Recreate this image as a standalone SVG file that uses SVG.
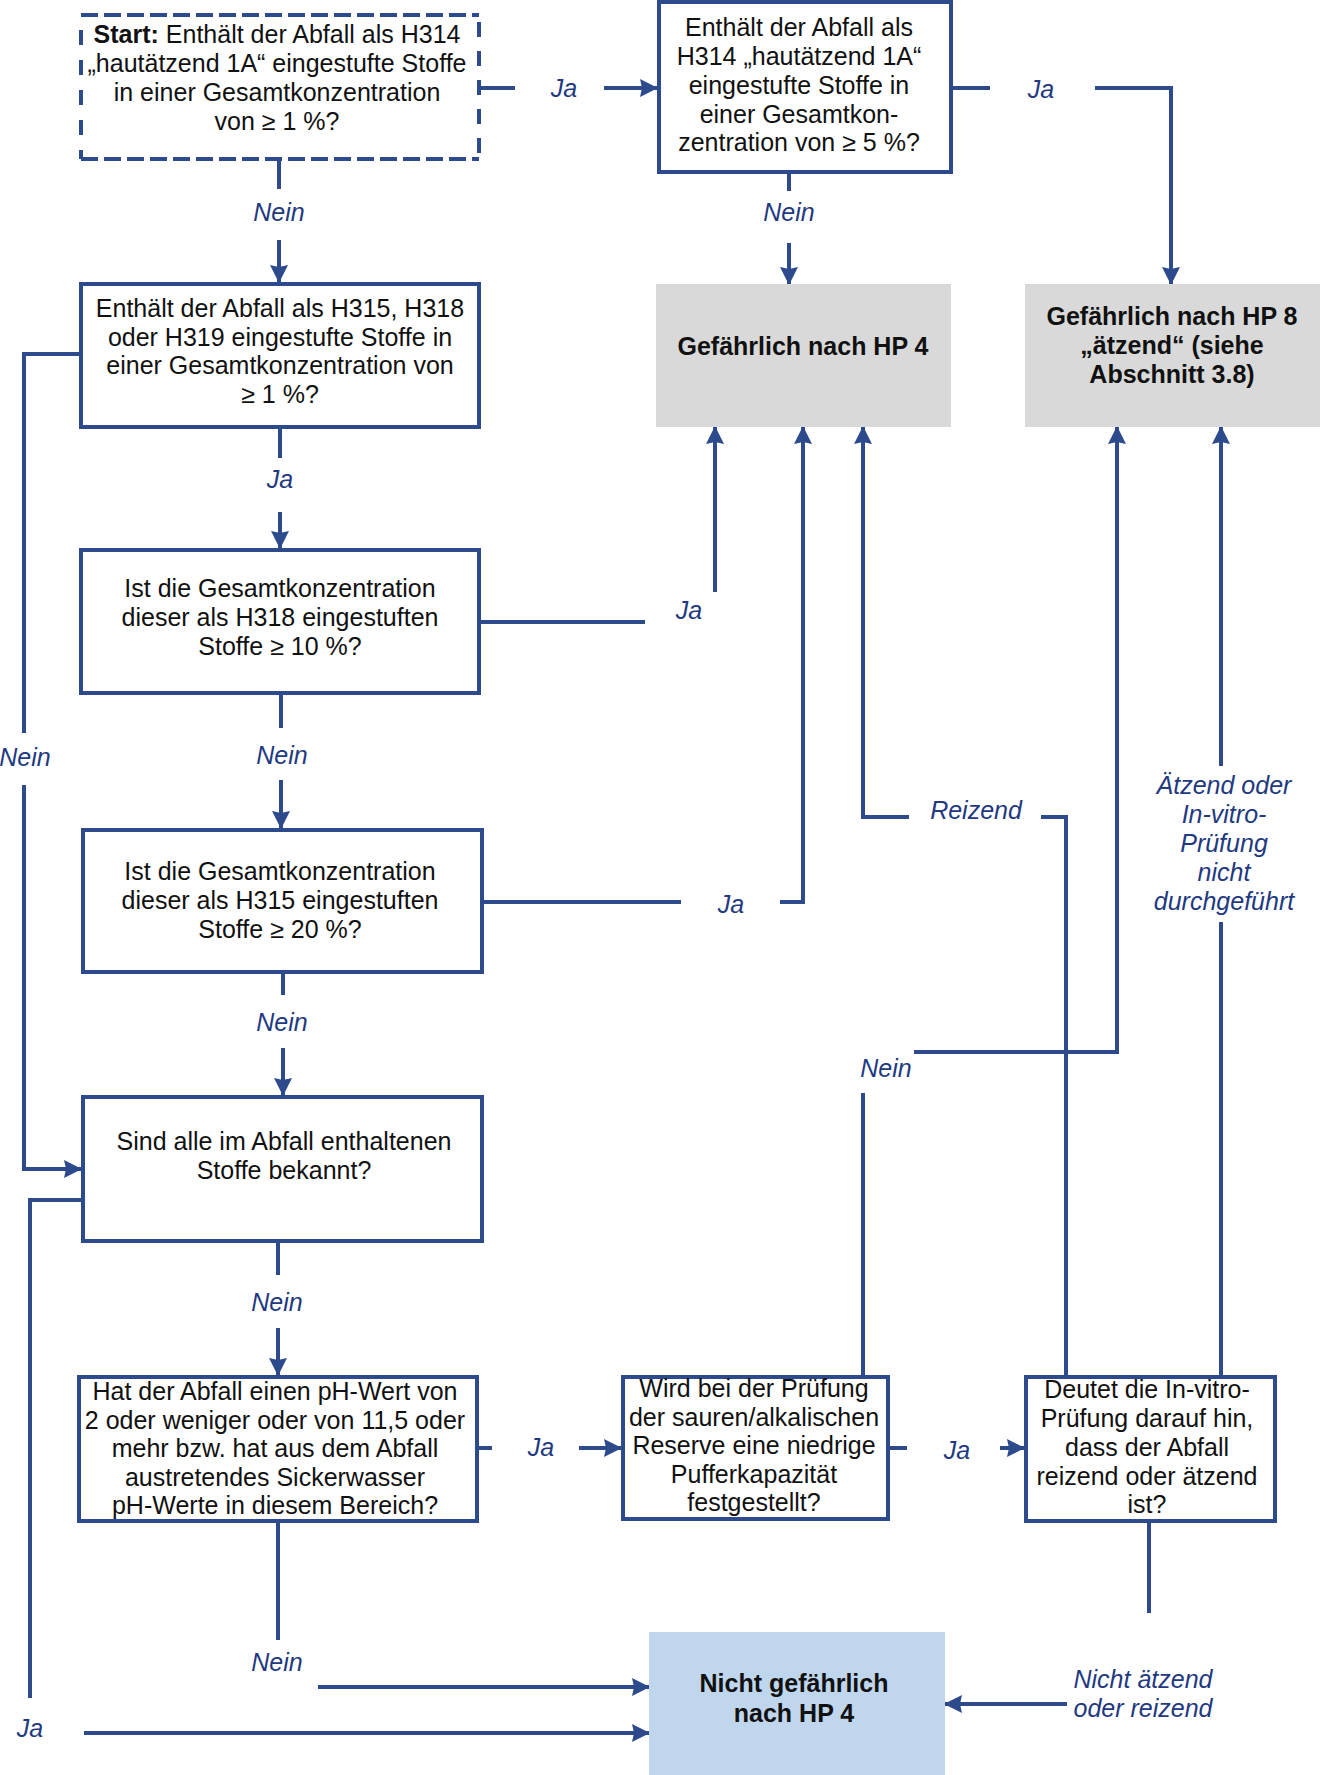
<svg xmlns="http://www.w3.org/2000/svg" width="1320" height="1775" viewBox="0 0 1320 1775">
<defs>
<marker id="ah" markerUnits="userSpaceOnUse" markerWidth="18" markerHeight="18" refX="17" refY="9" orient="auto">
<path d="M0,0 L18,9 L0,18 L2,9 z" fill="#2d4a8d"/>
</marker>
<style>
.box{fill:#fff;stroke:#2d4a8d;stroke-width:4}
.dash{stroke:#2d4a8d;stroke-width:4;fill:none}
.gray{fill:#d9d9d9}
.blue{fill:#c0d6ed}
.t{font-family:"Liberation Sans",Arial,sans-serif;font-size:25px;fill:#111;text-anchor:middle}
.b{font-weight:bold}
.lbl{font-family:"Liberation Sans",Arial,sans-serif;font-size:25px;font-style:italic;fill:#22397f;text-anchor:middle}
.c{stroke:#2d4a8d;stroke-width:4;fill:none}
.a{marker-end:url(#ah)}
</style>
</defs>
<rect width="1320" height="1775" fill="#fff"/>

<g id="connectors">
<line class="c" x1="479" y1="88" x2="515" y2="88"/>
<line class="c a" x1="604" y1="88" x2="657" y2="88"/>
<line class="c" x1="951" y1="88" x2="990" y2="88"/>
<path class="c a" d="M1095,88 H1171 V284"/>
<line class="c" x1="789" y1="172" x2="789" y2="191"/>
<line class="c a" x1="789" y1="243" x2="789" y2="284"/>
<line class="c" x1="279" y1="159" x2="279" y2="189"/>
<line class="c a" x1="279" y1="240" x2="279" y2="282"/>
<path class="c" d="M81,354 H24 V733"/>
<path class="c a" d="M24,785 V1169 H81"/>
<line class="c" x1="280" y1="427" x2="280" y2="458"/>
<line class="c a" x1="280" y1="512" x2="280" y2="548"/>
<line class="c" x1="479" y1="622" x2="645" y2="622"/>
<line class="c a" x1="715" y1="592" x2="715" y2="427"/>
<line class="c" x1="281" y1="693" x2="281" y2="728"/>
<line class="c a" x1="281" y1="780" x2="281" y2="828"/>
<line class="c" x1="482" y1="902" x2="681" y2="902"/>
<path class="c a" d="M780,902 H803 V427"/>
<line class="c" x1="283" y1="972" x2="283" y2="995"/>
<line class="c a" x1="283" y1="1048" x2="283" y2="1095"/>
<path class="c" d="M83,1200 H30 V1698"/>
<line class="c a" x1="84" y1="1733" x2="649" y2="1733"/>
<line class="c" x1="278" y1="1241" x2="278" y2="1275"/>
<line class="c a" x1="278" y1="1328" x2="278" y2="1375"/>
<line class="c" x1="477" y1="1448" x2="492" y2="1448"/>
<line class="c a" x1="579" y1="1448" x2="621" y2="1448"/>
<line class="c" x1="278" y1="1521" x2="278" y2="1640"/>
<line class="c a" x1="318" y1="1687" x2="649" y2="1687"/>
<line class="c" x1="888" y1="1448" x2="907" y2="1448"/>
<line class="c a" x1="1000" y1="1448" x2="1024" y2="1448"/>
<line class="c" x1="863" y1="1377" x2="863" y2="1093"/>
<path class="c a" d="M914,1052 H1117 V427"/>
<path class="c" d="M1066,1377 V817 H1041"/>
<path class="c a" d="M909,817 H863 V427"/>
<line class="c" x1="1221" y1="1377" x2="1221" y2="922"/>
<line class="c a" x1="1221" y1="766" x2="1221" y2="427"/>
<line class="c" x1="1149" y1="1522" x2="1149" y2="1613"/>
<path class="c a" d="M1067,1704 H945"/>
</g>

<g id="labels">
<text class="lbl" x="564" y="97">Ja</text>
<text class="lbl" x="1041" y="98">Ja</text>
<text class="lbl" x="279" y="221">Nein</text>
<text class="lbl" x="789" y="221">Nein</text>
<text class="lbl" x="280" y="488">Ja</text>
<text class="lbl" x="25" y="766">Nein</text>
<text class="lbl" x="689" y="619">Ja</text>
<text class="lbl" x="282" y="764">Nein</text>
<text class="lbl" x="731" y="913">Ja</text>
<text class="lbl" x="282" y="1031">Nein</text>
<text class="lbl" x="976" y="819">Reizend</text>
<text class="lbl" x="1224" y="794">Ätzend oder</text>
<text class="lbl" x="1224" y="823">In-vitro-</text>
<text class="lbl" x="1224" y="852">Prüfung</text>
<text class="lbl" x="1224" y="881">nicht</text>
<text class="lbl" x="1224" y="910">durchgeführt</text>
<text class="lbl" x="886" y="1077">Nein</text>
<text class="lbl" x="277" y="1311">Nein</text>
<text class="lbl" x="541" y="1456">Ja</text>
<text class="lbl" x="957" y="1459">Ja</text>
<text class="lbl" x="277" y="1671">Nein</text>
<text class="lbl" x="30" y="1737">Ja</text>
<text class="lbl" x="1143" y="1688">Nicht ätzend</text>
<text class="lbl" x="1143" y="1717">oder reizend</text>
</g>

<g id="start">
<rect x="81" y="15" width="398" height="144" fill="#fff"/>
<line class="dash" x1="81" y1="15" x2="479" y2="15" stroke-dasharray="17 6"/>
<line class="dash" x1="81" y1="159" x2="479" y2="159" stroke-dasharray="17 6"/>
<line class="dash" x1="81" y1="30" x2="81" y2="159" stroke-dasharray="15 15"/>
<line class="dash" x1="479" y1="22" x2="479" y2="159" stroke-dasharray="15 14"/>
<text class="t" x="277" y="43"><tspan class="b">Start:</tspan> Enthält der Abfall als H314</text>
<text class="t" x="277" y="72">„hautätzend 1A“ eingestufte Stoffe</text>
<text class="t" x="277" y="101">in einer Gesamtkonzentration</text>
<text class="t" x="277" y="130">von ≥ 1 %?</text>
</g>

<g id="q-h314-5">
<rect class="box" x="659" y="2" width="292" height="170"/>
<text class="t" x="799" y="36">Enthält der Abfall als</text>
<text class="t" x="799" y="65">H314 „hautätzend 1A“</text>
<text class="t" x="799" y="94">eingestufte Stoffe in</text>
<text class="t" x="799" y="122.5">einer Gesamtkon-</text>
<text class="t" x="799" y="151">zentration von ≥ 5 %?</text>
</g>

<g id="hp4">
<rect class="gray" x="656" y="284" width="295" height="143"/>
<text class="t b" x="803" y="355">Gefährlich nach HP 4</text>
</g>

<g id="hp8">
<rect class="gray" x="1025" y="284" width="295" height="143"/>
<text class="t b" x="1172" y="325">Gefährlich nach HP 8</text>
<text class="t b" x="1172" y="354">„ätzend“ (siehe</text>
<text class="t b" x="1172" y="383">Abschnitt 3.8)</text>
</g>

<g id="q-h315-318-319">
<rect class="box" x="81" y="284" width="398" height="143"/>
<text class="t" x="280" y="317">Enthält der Abfall als H315, H318</text>
<text class="t" x="280" y="346">oder H319 eingestufte Stoffe in</text>
<text class="t" x="280" y="374">einer Gesamtkonzentration von</text>
<text class="t" x="280" y="403">≥ 1 %?</text>
</g>

<g id="q-h318">
<rect class="box" x="81" y="550" width="398" height="143"/>
<text class="t" x="280" y="597">Ist die Gesamtkonzentration</text>
<text class="t" x="280" y="626">dieser als H318 eingestuften</text>
<text class="t" x="280" y="655">Stoffe ≥ 10 %?</text>
</g>

<g id="q-h315">
<rect class="box" x="83" y="830" width="399" height="142"/>
<text class="t" x="280" y="880">Ist die Gesamtkonzentration</text>
<text class="t" x="280" y="909">dieser als H315 eingestuften</text>
<text class="t" x="280" y="938">Stoffe ≥ 20 %?</text>
</g>

<g id="q-bekannt">
<rect class="box" x="83" y="1097" width="399" height="144"/>
<text class="t" x="284" y="1150">Sind alle im Abfall enthaltenen</text>
<text class="t" x="284" y="1179">Stoffe bekannt?</text>
</g>

<g id="q-ph">
<rect class="box" x="79" y="1377" width="398" height="144"/>
<text class="t" x="275" y="1400">Hat der Abfall einen pH-Wert von</text>
<text class="t" x="275" y="1428.6">2 oder weniger oder von 11,5 oder</text>
<text class="t" x="275" y="1457.2">mehr bzw. hat aus dem Abfall</text>
<text class="t" x="275" y="1485.8">austretendes Sickerwasser</text>
<text class="t" x="275" y="1514.4">pH-Werte in diesem Bereich?</text>
</g>

<g id="q-puffer">
<rect class="box" x="623" y="1377" width="265" height="142"/>
<text class="t" x="754" y="1397">Wird bei der Prüfung</text>
<text class="t" x="754" y="1425.5">der sauren/alkalischen</text>
<text class="t" x="754" y="1454">Reserve eine niedrige</text>
<text class="t" x="754" y="1482.5">Pufferkapazität</text>
<text class="t" x="754" y="1511">festgestellt?</text>
</g>

<g id="q-invitro">
<rect class="box" x="1026" y="1377" width="249" height="144"/>
<text class="t" x="1147" y="1398">Deutet die In-vitro-</text>
<text class="t" x="1147" y="1427">Prüfung darauf hin,</text>
<text class="t" x="1147" y="1456">dass der Abfall</text>
<text class="t" x="1147" y="1484.5">reizend oder ätzend</text>
<text class="t" x="1147" y="1513">ist?</text>
</g>

<g id="nicht-gefaehrlich">
<rect class="blue" x="649" y="1632" width="296" height="143"/>
<text class="t b" x="794" y="1692">Nicht gefährlich</text>
<text class="t b" x="794" y="1722">nach HP 4</text>
</g>
</svg>
